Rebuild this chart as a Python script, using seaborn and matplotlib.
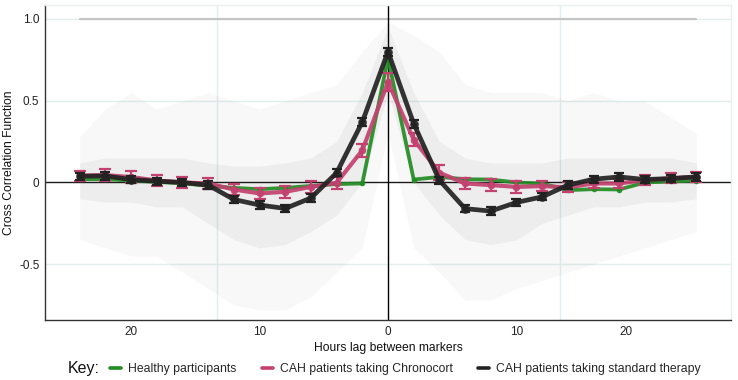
import numpy as np
import pandas as pd
import matplotlib
matplotlib.use('Agg')
import matplotlib.pyplot as plt
from matplotlib.lines import Line2D
import seaborn as sns

# lag in hours between the two markers
lags = [-24, -22, -20, -18, -16, -14, -12, -10, -8, -6, -4, -2, 0,
        2, 4, 6, 8, 10, 12, 14, 16, 18, 20, 22, 24]

# mean cross correlation per group
healthy = [0.020, 0.020, 0.012, 0.003, -0.005, -0.020, -0.033, -0.041, -0.033, -0.021, -0.010, -0.006, 0.760,
           0.018, 0.034, 0.020, 0.018, 0.000, -0.006, -0.047, -0.041, -0.043, 0.000, 0.006, 0.012]
chronocort = [0.042, 0.045, 0.033, 0.012, 0.000, -0.006, -0.043, -0.067, -0.057, -0.027, -0.002, 0.197, 0.615,
              0.262, 0.060, -0.006, -0.016, -0.027, -0.022, -0.030, -0.006, -0.006, 0.015, 0.025, 0.035]
chronocort_se = [0.030, 0.035, 0.035, 0.035, 0.035, 0.035, 0.035, 0.035, 0.035, 0.035, 0.035, 0.040, 0.055,
                 0.040, 0.045, 0.035, 0.035, 0.035, 0.030, 0.030, 0.030, 0.030, 0.030, 0.030, 0.030]
standard = [0.038, 0.040, 0.018, 0.008, 0.000, -0.016, -0.104, -0.138, -0.159, -0.095, 0.059, 0.370, 0.800,
            0.360, 0.014, -0.160, -0.175, -0.122, -0.088, -0.016, 0.020, 0.034, 0.018, 0.024, 0.034]
standard_se = [0.022, 0.022, 0.022, 0.022, 0.022, 0.022, 0.022, 0.022, 0.022, 0.022, 0.022, 0.025, 0.025,
               0.025, 0.022, 0.022, 0.022, 0.022, 0.022, 0.022, 0.022, 0.022, 0.022, 0.022, 0.022]

# rough extent of the individual (grey) cross correlation curves
cloud_outer_hi = [0.28, 0.45, 0.55, 0.45, 0.50, 0.55, 0.50, 0.45, 0.50, 0.55, 0.60, 0.80, 0.98,
                  0.90, 0.80, 0.60, 0.55, 0.55, 0.55, 0.50, 0.55, 0.50, 0.50, 0.40, 0.30]
cloud_outer_lo = [-0.35, -0.40, -0.45, -0.45, -0.55, -0.65, -0.75, -0.78, -0.78, -0.70, -0.55, -0.40, 0.30,
                  -0.40, -0.55, -0.72, -0.72, -0.65, -0.60, -0.55, -0.50, -0.45, -0.40, -0.35, -0.30]
cloud_inner_hi = [0.12, 0.15, 0.15, 0.15, 0.15, 0.12, 0.10, 0.10, 0.12, 0.15, 0.25, 0.55, 0.95,
                  0.55, 0.25, 0.15, 0.12, 0.12, 0.12, 0.15, 0.15, 0.15, 0.15, 0.15, 0.12]
cloud_inner_lo = [-0.10, -0.12, -0.12, -0.15, -0.15, -0.25, -0.35, -0.40, -0.38, -0.30, -0.20, 0.00, 0.55,
                  0.00, -0.20, -0.35, -0.38, -0.35, -0.25, -0.20, -0.15, -0.15, -0.12, -0.12, -0.10]

group_names = ['Healthy participants', 'CAH patients taking Chronocort',
               'CAH patients taking standard therapy']
colors = ['#238b23', '#c2416f', '#222222']

x_ticks = [-20, -10, 0, 10, 18.5]
x_tick_labels = ['20', '10', '0', '10', '20']
y_ticks = [-0.5, 0, 0.5, 1.0]
y_tick_labels = ['-0.5', '0', '0.5', '1.0']

df = pd.DataFrame({
    'lag': lags * 3,
    'ccf': healthy + chronocort + standard,
    'group': [g for g in group_names for _ in lags],
})

sns.set_theme(style='white')
plt.rcParams['font.family'] = ['Liberation Sans', 'DejaVu Sans']

fig, ax = plt.subplots(figsize=(7.38, 3.8), dpi=100)
fig.subplots_adjust(left=0.061, right=0.9905, top=0.987, bottom=0.158)

# grey cloud of individual curves
ax.fill_between(lags, cloud_outer_lo, cloud_outer_hi, color='#000000', alpha=0.028, lw=0, zorder=1)
ax.fill_between(lags, cloud_inner_lo, cloud_inner_hi, color='#000000', alpha=0.045, lw=0, zorder=1)
ax.plot([lags[0], lags[-1]], [1, 1], color='#c4c4c4', lw=1.5, zorder=1.5)

# light grid
for yv in [-0.5, 0.5, 1.0]:
    ax.axhline(yv, color='#e3eeee', lw=1, zorder=0)
for xv in [-13.3, 13.4]:
    ax.axvline(xv, color='#e3eeee', lw=1, zorder=0)

ax.axhline(0, color='#1a1a1a', lw=1, zorder=2)
ax.axvline(0, color='#000000', lw=1, zorder=2)

styles = {
    group_names[0]: dict(lw=2.7, ms=4.0),
    group_names[1]: dict(lw=3.0, ms=5.5),
    group_names[2]: dict(lw=3.4, ms=6.2),
}
for i, name in enumerate(group_names):
    sub = df[df['group'] == name]
    sns.lineplot(data=sub, x='lag', y='ccf', color=colors[i], marker='o',
                 markersize=styles[name]['ms'], markeredgewidth=0,
                 linewidth=styles[name]['lw'], alpha=0.92, ax=ax,
                 zorder=3 + i, legend=False, errorbar=None)

ax.errorbar(lags, chronocort, yerr=chronocort_se, fmt='none', ecolor=colors[1],
            elinewidth=1.6, capsize=4.2, capthick=1.6, zorder=4.5)
ax.errorbar(lags, standard, yerr=standard_se, fmt='none', ecolor=colors[2],
            elinewidth=1.6, capsize=3.6, capthick=1.6, zorder=5.5)

ax.set_xlim(-26.7, 26.7)
ax.set_ylim(-0.841, 1.086)
ax.set_xticks(x_ticks)
ax.set_xticklabels(x_tick_labels)
ax.set_yticks(y_ticks)
ax.set_yticklabels(y_tick_labels)
ax.tick_params(length=0, labelsize=8.5, labelcolor='#222222')
ax.tick_params(axis='y', pad=4)
ax.tick_params(axis='x', pad=4)
ax.grid(False)

ax.set_xlabel('Hours lag between markers', fontsize=8.7, color='#111111', labelpad=3)
ax.set_ylabel('Cross Correlation Function', fontsize=8.7, color='#111111', labelpad=3)

for side in ['left', 'bottom']:
    ax.spines[side].set_color('#333333')
    ax.spines[side].set_linewidth(1)
for side in ['top', 'right']:
    ax.spines[side].set_color('#e8f0f0')
    ax.spines[side].set_linewidth(1)

handles = [Line2D([0], [0], color=c, lw=2.6) for c in colors]
fig.legend(handles, group_names, loc='center', bbox_to_anchor=(405.5 / 738, 1 - 369 / 380),
           ncol=3, frameon=False, fontsize=8.8, handlelength=0.9,
           handletextpad=0.55, columnspacing=2.1)
fig.text(68 / 738, 1 - 369 / 380, 'Key:', fontsize=11.5, va='center', ha='left', color='#111111')

fig.savefig('out.png', dpi=100)
